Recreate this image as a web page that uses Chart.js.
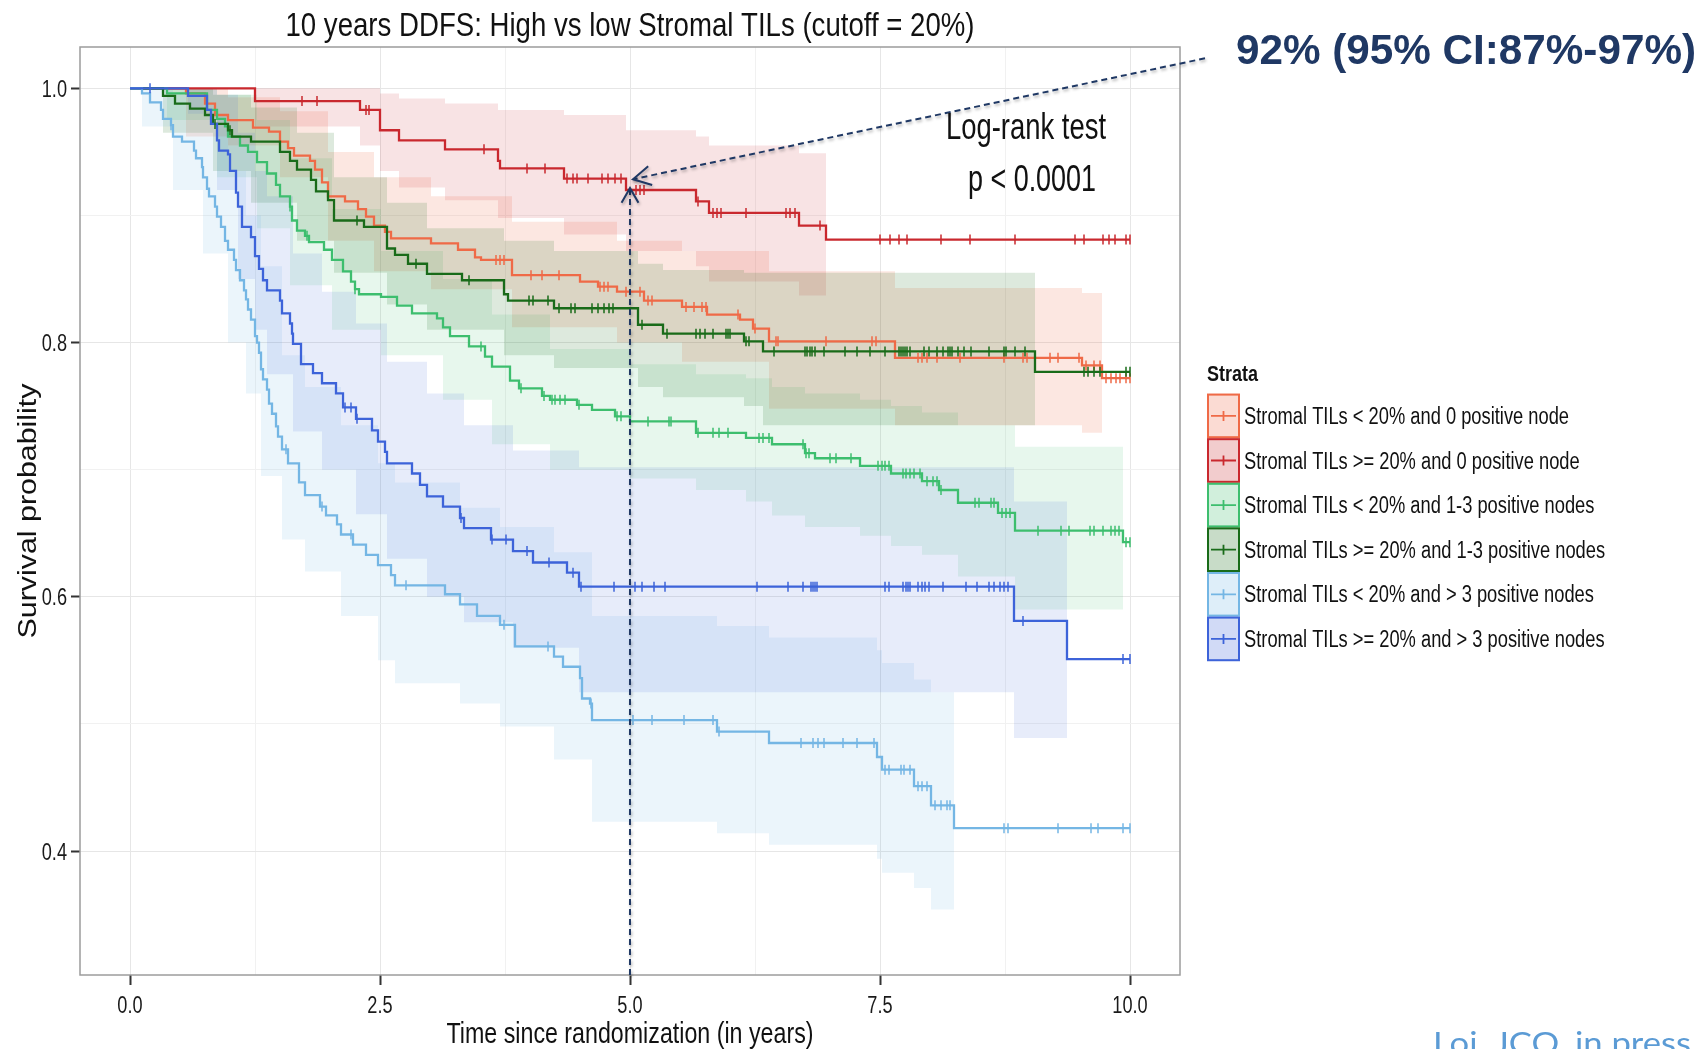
<!DOCTYPE html>
<html>
<head>
<meta charset="utf-8">
<title>10 years DDFS</title>
<script src="https://cdn.jsdelivr.net/npm/chart.js@4.4.1/dist/chart.umd.min.js"></script>
<style>
  html, body { margin: 0; padding: 0; background: #fff; }
  #wrap { position: relative; width: 1705px; height: 1049px; overflow: hidden; }
</style>
</head>
<body>
<div id="wrap"><canvas id="km"></canvas></div>
<script>
// === 10 years DDFS — Kaplan-Meier by strata ===

const xMajorTicks = [0, 2.5, 5, 7.5, 10];
const xMinorTicks = [1.25, 3.75, 6.25, 8.75];
const yMajorTicks = [0.4, 0.6, 0.8, 1.0];
const yMinorTicks = [0.5, 0.7, 0.9];

const strataLabels = [
  'Stromal TILs < 20% and 0 positive node',
  'Stromal TILs >= 20% and 0 positive node',
  'Stromal TILs < 20% and 1-3 positive nodes',
  'Stromal TILs >= 20% and 1-3 positive nodes',
  'Stromal TILs < 20% and > 3 positive nodes',
  'Stromal TILs >= 20% and > 3 positive nodes',
];

// Stratum 1: TILs < 20%, 0 node
const s1Time = [0, 0.56, 0.75, 0.85, 0.98, 1.23, 1.39, 1.50, 1.58, 1.64, 1.80, 1.85, 1.92, 1.98, 2.15, 2.28, 2.36, 2.44, 2.55, 2.61, 3.01, 3.28, 3.45, 3.51, 3.82, 4.50, 4.68, 4.87, 5.14, 5.52, 5.77, 6.10, 6.23, 6.39, 7.65, 9.52, 9.72, 10.0];
const s1Surv = [1.0, 0.996, 0.988, 0.979, 0.975, 0.969, 0.966, 0.958, 0.953, 0.947, 0.943, 0.936, 0.926, 0.915, 0.911, 0.905, 0.899, 0.892, 0.887, 0.882, 0.878, 0.873, 0.867, 0.865, 0.853, 0.848, 0.844, 0.840, 0.833, 0.828, 0.822, 0.818, 0.811, 0.801, 0.788, 0.782, 0.772, 0.772];
const s1Censor = [3.66, 3.70, 3.74, 4.01, 4.12, 4.29, 4.70, 4.74, 4.78, 4.96, 5.10, 5.18, 5.22, 5.56, 5.64, 5.72, 5.76, 6.08, 6.25, 6.46, 6.48, 6.96, 7.42, 7.46, 7.88, 7.92, 7.97, 8.07, 8.30, 8.74, 8.93, 8.97, 9.20, 9.28, 9.49, 9.56, 9.64, 9.70, 9.76, 9.81, 9.86, 9.90, 9.96, 10.0];
const s1BandTime = [0, 0.56, 0.98, 1.50, 1.98, 2.44, 3.01, 3.82, 4.87, 5.52, 6.39, 7.65, 9.52, 9.72];
const s1Upper = [1.0, 1.0, 0.993, 0.982, 0.950, 0.930, 0.915, 0.895, 0.880, 0.872, 0.856, 0.843, 0.839, 0.839];
const s1Lower = [1.0, 0.962, 0.955, 0.930, 0.880, 0.856, 0.842, 0.812, 0.800, 0.785, 0.748, 0.735, 0.729, 0.729];

// Stratum 2: TILs >= 20%, 0 node
const s2Time = [0, 1.25, 2.30, 2.50, 2.69, 3.15, 3.68, 3.70, 4.34, 4.96, 5.66, 5.79, 6.69, 6.96, 10.0];
const s2Surv = [1.0, 0.990, 0.983, 0.967, 0.959, 0.952, 0.943, 0.937, 0.929, 0.920, 0.911, 0.902, 0.892, 0.881, 0.881];
const s2Censor = [1.72, 1.87, 2.36, 2.39, 3.54, 3.97, 4.15, 4.37, 4.43, 4.47, 4.58, 4.72, 4.78, 4.85, 4.91, 5.06, 5.10, 5.14, 5.68, 5.83, 5.87, 5.91, 6.16, 6.56, 6.60, 6.65, 6.90, 7.50, 7.60, 7.69, 7.77, 8.11, 8.40, 8.85, 9.45, 9.54, 9.73, 9.79, 9.85, 9.96, 10.0];
const s2BandTime = [0, 1.25, 2.30, 2.50, 2.69, 3.15, 3.68, 4.34, 4.96, 5.66, 5.79, 6.69, 6.96];
const s2Upper = [1.0, 1.0, 1.0, 0.996, 0.992, 0.988, 0.983, 0.979, 0.967, 0.962, 0.955, 0.949, 0.949];
const s2Lower = [1.0, 0.970, 0.955, 0.935, 0.922, 0.912, 0.898, 0.885, 0.872, 0.860, 0.848, 0.837, 0.837];

// Stratum 3: TILs < 20%, 1-3 nodes
const s3Time = [0, 0.37, 0.77, 0.87, 0.95, 0.98, 1.10, 1.18, 1.27, 1.37, 1.46, 1.50, 1.60, 1.62, 1.67, 1.75, 1.79, 1.94, 2.02, 2.13, 2.21, 2.25, 2.29, 2.51, 2.67, 2.82, 3.07, 3.13, 3.20, 3.39, 3.55, 3.62, 3.80, 3.89, 4.12, 4.20, 4.47, 4.62, 4.85, 5.00, 5.66, 6.16, 6.42, 6.75, 6.85, 7.30, 7.61, 7.92, 8.09, 8.28, 8.68, 8.85, 9.93, 10.0];
const s3Surv = [1.0, 0.996, 0.983, 0.976, 0.970, 0.962, 0.955, 0.950, 0.942, 0.933, 0.924, 0.915, 0.907, 0.896, 0.888, 0.884, 0.879, 0.873, 0.865, 0.856, 0.848, 0.842, 0.838, 0.836, 0.829, 0.823, 0.819, 0.812, 0.805, 0.797, 0.789, 0.781, 0.770, 0.764, 0.758, 0.755, 0.751, 0.747, 0.742, 0.738, 0.729, 0.725, 0.720, 0.713, 0.709, 0.703, 0.697, 0.691, 0.684, 0.674, 0.666, 0.652, 0.643, 0.643];
const s3Censor = [1.60, 1.77, 2.25, 3.51, 3.91, 4.14, 4.22, 4.25, 4.30, 4.35, 4.49, 4.87, 4.91, 5.18, 5.39, 5.41, 5.68, 5.83, 5.89, 5.98, 6.29, 6.33, 6.39, 6.73, 6.76, 6.79, 7.00, 7.06, 7.21, 7.48, 7.52, 7.55, 7.59, 7.73, 7.76, 7.80, 7.84, 7.90, 7.97, 8.03, 8.07, 8.11, 8.45, 8.49, 8.61, 8.64, 8.72, 8.76, 8.80, 9.08, 9.31, 9.39, 9.60, 9.64, 9.73, 9.81, 9.85, 9.89, 9.96, 10.0];
const s3BandTime = [0, 0.37, 0.87, 1.27, 1.60, 2.02, 2.51, 3.13, 3.62, 4.20, 5.00, 5.66, 6.16, 6.42, 6.75, 7.30, 7.61, 7.92, 8.28, 8.85, 9.93];
const s3Upper = [1.0, 1.0, 0.995, 0.975, 0.945, 0.905, 0.872, 0.850, 0.822, 0.795, 0.783, 0.775, 0.772, 0.765, 0.760, 0.755, 0.750, 0.745, 0.735, 0.718, 0.718];
const s3Lower = [1.0, 0.975, 0.930, 0.890, 0.845, 0.810, 0.790, 0.755, 0.720, 0.700, 0.693, 0.684, 0.675, 0.664, 0.655, 0.648, 0.640, 0.633, 0.616, 0.590, 0.590];

// Stratum 4: TILs >= 20%, 1-3 nodes
const s4Time = [0, 0.33, 0.45, 0.60, 0.75, 0.83, 0.98, 1.02, 1.21, 1.50, 1.60, 1.67, 1.81, 1.86, 1.98, 2.04, 2.34, 2.57, 2.65, 2.78, 2.97, 3.32, 3.74, 3.78, 4.24, 5.08, 5.33, 6.14, 6.33, 9.05, 10.0];
const s4Surv = [1.0, 0.994, 0.988, 0.984, 0.979, 0.972, 0.967, 0.962, 0.958, 0.950, 0.943, 0.936, 0.928, 0.919, 0.912, 0.896, 0.891, 0.874, 0.869, 0.862, 0.854, 0.849, 0.838, 0.833, 0.827, 0.814, 0.807, 0.801, 0.793, 0.777, 0.777];
const s4Censor = [0.85, 1.00, 2.27, 2.86, 3.39, 3.99, 4.03, 4.18, 4.29, 4.41, 4.45, 4.62, 4.68, 4.74, 4.79, 4.83, 5.12, 5.37, 5.66, 5.70, 5.75, 5.83, 5.96, 5.98, 6.00, 6.16, 6.19, 6.44, 6.75, 6.77, 6.80, 6.82, 6.85, 6.94, 7.15, 7.27, 7.40, 7.55, 7.69, 7.71, 7.73, 7.75, 7.77, 7.80, 7.94, 7.99, 8.07, 8.13, 8.18, 8.20, 8.22, 8.28, 8.34, 8.41, 8.59, 8.74, 8.76, 8.85, 8.95, 9.54, 9.58, 9.64, 9.70, 9.96, 10.0];
const s4BandTime = [0, 0.33, 0.83, 1.21, 1.67, 2.04, 2.57, 2.97, 3.74, 4.24, 5.08, 5.33, 6.14, 6.33, 9.05];
const s4Upper = [1.0, 1.0, 0.995, 0.985, 0.965, 0.930, 0.910, 0.890, 0.880, 0.872, 0.862, 0.857, 0.855, 0.855, 0.855];
const s4Lower = [1.0, 0.965, 0.935, 0.910, 0.880, 0.855, 0.830, 0.810, 0.790, 0.780, 0.765, 0.757, 0.750, 0.735, 0.735];

// Stratum 5: TILs < 20%, > 3 nodes
const s5Time = [0, 0.12, 0.20, 0.31, 0.33, 0.41, 0.43, 0.52, 0.64, 0.66,
  0.72, 0.73, 0.77, 0.79, 0.85, 0.87, 0.91, 0.95, 0.98, 1.04,
  1.06, 1.10, 1.14, 1.16, 1.18, 1.21, 1.25, 1.27, 1.29, 1.31,
  1.33, 1.37, 1.39, 1.42, 1.46, 1.48, 1.52, 1.58, 1.69, 1.75,
  1.90, 1.96, 2.07, 2.11, 2.23, 2.36, 2.48, 2.61, 2.65, 3.15,
  3.30, 3.47, 3.70, 3.85, 4.24, 4.33, 4.50, 4.52, 4.60, 4.62,
  5.87, 6.39, 7.47, 7.52, 7.84, 8.01, 8.24, 10.0];
const s5Surv = [1.0, 0.996, 0.989, 0.983, 0.976, 0.971, 0.962, 0.958, 0.951, 0.945,
  0.938, 0.930, 0.921, 0.915, 0.907, 0.899, 0.891, 0.880, 0.873, 0.865,
  0.857, 0.849, 0.841, 0.834, 0.826, 0.818, 0.805, 0.800, 0.792, 0.779,
  0.771, 0.763, 0.752, 0.744, 0.734, 0.726, 0.716, 0.705, 0.690, 0.680,
  0.671, 0.664, 0.657, 0.649, 0.641, 0.633, 0.625, 0.617, 0.609, 0.602,
  0.594, 0.585, 0.578, 0.561, 0.553, 0.545, 0.536, 0.520, 0.516, 0.503,
  0.494, 0.485, 0.474, 0.464, 0.451, 0.436, 0.418, 0.418];
const s5Censor = [0.41, 1.56, 1.92, 2.21, 2.76, 3.74, 4.18, 4.61, 5.03, 5.22, 5.54, 5.83, 5.89, 6.71, 6.83, 6.88, 6.94, 7.13, 7.27, 7.44, 7.55, 7.59, 7.71, 7.74, 7.80, 7.88, 7.92, 7.97, 8.05, 8.11, 8.17, 8.20, 8.74, 8.78, 9.28, 9.61, 9.68, 9.93, 10.0];
const s5BandTime = [0, 0.12, 0.43, 0.73, 0.98, 1.16, 1.31, 1.52, 1.75, 2.11, 2.48, 2.65, 3.30, 3.70, 4.24, 4.62, 5.87, 6.39, 7.47, 7.52, 7.84, 8.01, 8.24];
const s5Upper = [1.0, 1.0, 0.995, 0.980, 0.935, 0.900, 0.860, 0.790, 0.765, 0.735, 0.705, 0.690, 0.670, 0.655, 0.635, 0.585, 0.577, 0.568, 0.558, 0.548, 0.535, 0.525, 0.525];
const s5Lower = [1.0, 0.970, 0.920, 0.870, 0.800, 0.760, 0.695, 0.645, 0.620, 0.585, 0.550, 0.532, 0.516, 0.498, 0.472, 0.423, 0.414, 0.405, 0.394, 0.383, 0.371, 0.354, 0.354];

// Stratum 6: TILs >= 20%, > 3 nodes
const s6Time = [0, 0.58, 0.77, 0.81, 0.87, 0.89, 0.98, 1.00, 1.06, 1.08, 1.12, 1.21, 1.25, 1.29, 1.33, 1.37, 1.50, 1.52, 1.60, 1.62, 1.63, 1.71, 1.83, 1.92, 2.06, 2.13, 2.26, 2.42, 2.48, 2.55, 2.57, 2.82, 2.90, 2.97, 3.13, 3.30, 3.34, 3.61, 3.83, 4.03, 4.37, 4.49, 8.84, 9.37, 10.0];
const s6Surv = [1.0, 0.994, 0.983, 0.972, 0.959, 0.951, 0.948, 0.935, 0.918, 0.907, 0.891, 0.883, 0.868, 0.858, 0.849, 0.841, 0.833, 0.823, 0.815, 0.807, 0.799, 0.783, 0.776, 0.768, 0.760, 0.749, 0.740, 0.731, 0.722, 0.714, 0.705, 0.697, 0.688, 0.679, 0.671, 0.662, 0.654, 0.645, 0.636, 0.627, 0.619, 0.608, 0.581, 0.551, 0.551];
const s6Censor = [0.20, 2.15, 2.21, 2.27, 3.31, 3.62, 3.76, 3.97, 4.19, 4.43, 4.51, 4.84, 5.05, 5.12, 5.24, 5.35, 6.27, 6.58, 6.73, 6.81, 6.83, 6.85, 6.87, 7.55, 7.59, 7.73, 7.76, 7.78, 7.80, 7.88, 7.92, 7.95, 7.99, 8.13, 8.36, 8.47, 8.59, 8.64, 8.70, 8.74, 8.78, 8.93, 9.93, 10.0];
const s6BandTime = [0, 0.58, 0.87, 1.08, 1.25, 1.37, 1.63, 1.92, 2.26, 2.57, 2.97, 3.34, 3.83, 4.49, 8.84, 9.37];
const s6Upper = [1.0, 1.0, 0.995, 0.965, 0.935, 0.915, 0.870, 0.840, 0.815, 0.785, 0.760, 0.735, 0.715, 0.702, 0.675, 0.675];
const s6Lower = [1.0, 0.980, 0.920, 0.850, 0.810, 0.775, 0.730, 0.700, 0.665, 0.630, 0.600, 0.580, 0.560, 0.525, 0.489, 0.489];

// styles
const STRATA_COLORS = ['#ef6a47', '#c9282e', '#3dbe6e', '#196b19', '#74b6e4', '#3d63d9'];
const BAND_ALPHA = [0.16, 0.13, 0.12, 0.15, 0.14, 0.12];
const NAVY = '#1f3864';
const FONT = '"Liberation Sans", Arial, sans-serif';

function rgba(hex, a) {
  const n = parseInt(hex.slice(1), 16);
  return `rgba(${(n >> 16) & 255}, ${(n >> 8) & 255}, ${n & 255}, ${a})`;
}

// KM step lookup: value of the curve at time t
function survAt(times, surv, t) {
  let v = surv[0];
  for (let i = 0; i < times.length; i++) {
    if (times[i] <= t) v = surv[i];
  }
  return v;
}

const strata = [
  { time: s1Time, surv: s1Surv, censor: s1Censor, band: s1BandTime, up: s1Upper, lo: s1Lower },
  { time: s2Time, surv: s2Surv, censor: s2Censor, band: s2BandTime, up: s2Upper, lo: s2Lower },
  { time: s3Time, surv: s3Surv, censor: s3Censor, band: s3BandTime, up: s3Upper, lo: s3Lower },
  { time: s4Time, surv: s4Surv, censor: s4Censor, band: s4BandTime, up: s4Upper, lo: s4Lower },
  { time: s5Time, surv: s5Surv, censor: s5Censor, band: s5BandTime, up: s5Upper, lo: s5Lower },
  { time: s6Time, surv: s6Surv, censor: s6Censor, band: s6BandTime, up: s6Upper, lo: s6Lower },
];

const datasets = [];

// confidence ribbons (upper fills down to lower)
strata.forEach((s, k) => {
  const fillCol = rgba(STRATA_COLORS[k], BAND_ALPHA[k]);
  datasets.push({
    data: s.band.map((t, i) => ({ x: t, y: s.up[i] })),
    stepped: true, borderWidth: 0, borderColor: 'rgba(0,0,0,0)',
    pointRadius: 0, backgroundColor: fillCol, fill: '+1', order: 30 - k,
  });
  datasets.push({
    data: s.band.map((t, i) => ({ x: t, y: s.lo[i] })),
    stepped: true, borderWidth: 0, borderColor: 'rgba(0,0,0,0)',
    pointRadius: 0, fill: false, order: 30 - k,
  });
});

// survival curves
strata.forEach((s, k) => {
  datasets.push({
    label: strataLabels[k],
    data: s.time.map((t, i) => ({ x: t, y: s.surv[i] })),
    stepped: true, borderColor: STRATA_COLORS[k], borderWidth: 2.3,
    pointRadius: 0, fill: false, order: 20 - k,
  });
});

// censoring marks
strata.forEach((s, k) => {
  datasets.push({
    data: s.censor.map(t => ({ x: t, y: survAt(s.time, s.surv, t) })),
    showLine: false, pointStyle: 'line', pointRotation: 90, pointRadius: 5,
    pointBorderWidth: 1.5, pointBorderColor: STRATA_COLORS[k], order: 10 - k,
  });
});

// text drawn horizontally condensed to a target width
function condText(ctx, text, x, y, o) {
  ctx.save();
  ctx.font = o.font;
  ctx.fillStyle = o.color || '#111';
  ctx.textBaseline = 'alphabetic';
  const w = ctx.measureText(text).width;
  const sx = o.sx || (o.width ? o.width / w : 1);
  ctx.translate(x, y);
  if (o.rotate) ctx.rotate(o.rotate);
  ctx.scale(sx, 1);
  let ox = 0;
  if (o.align === 'center') ox = -w / 2;
  else if (o.align === 'right') ox = -w;
  ctx.fillText(text, ox, 0);
  ctx.restore();
  return sx;
}

function arrowHead(ctx, tx, ty, angle, len, spread) {
  ctx.beginPath();
  ctx.moveTo(tx + len * Math.cos(angle - spread), ty + len * Math.sin(angle - spread));
  ctx.lineTo(tx, ty);
  ctx.lineTo(tx + len * Math.cos(angle + spread), ty + len * Math.sin(angle + spread));
  ctx.stroke();
}

const decorPlugin = {
  id: 'decor',
  afterDraw(chart) {
    const { ctx, chartArea: a, scales: { x, y } } = chart;

    // panel border
    ctx.save();
    ctx.strokeStyle = '#9c9c9c';
    ctx.lineWidth = 1.5;
    ctx.strokeRect(a.left, a.top, a.right - a.left, a.bottom - a.top);
    ctx.restore();

    // tick labels (narrow, as in the source figure)
    const tickFont = `23px ${FONT}`;
    xMajorTicks.forEach(v => condText(ctx, v.toFixed(1), x.getPixelForValue(v), a.bottom + 38,
      { font: tickFont, sx: 0.79, align: 'center', color: '#1a1a1a' }));
    yMajorTicks.forEach(v => condText(ctx, v.toFixed(1), a.left - 13, y.getPixelForValue(v) + 8.5,
      { font: tickFont, sx: 0.79, align: 'right', color: '#1a1a1a' }));

    // dashed guide at 5 years and arrow to the annotation
    const vx = x.getPixelForValue(5);
    const vTop = y.getPixelForValue(0.9215);
    const tipX = x.getPixelForValue(5.03), tipY = y.getPixelForValue(0.9285);
    const startX = x.getPixelForValue(10.75), startY = y.getPixelForValue(1.0236);
    ctx.save();
    ctx.strokeStyle = NAVY;
    ctx.lineWidth = 2;
    ctx.shadowColor = 'rgba(0,0,0,0.3)';
    ctx.shadowBlur = 3;
    ctx.shadowOffsetX = 1;
    ctx.shadowOffsetY = 2;
    ctx.setLineDash([6, 4]);
    ctx.beginPath();
    ctx.moveTo(vx, a.bottom);
    ctx.lineTo(vx, vTop);
    ctx.stroke();
    ctx.beginPath();
    ctx.moveTo(startX, startY);
    ctx.lineTo(tipX, tipY);
    ctx.stroke();
    ctx.setLineDash([]);
    ctx.lineWidth = 2;
    arrowHead(ctx, vx, vTop, Math.PI / 2, 17, 0.52);
    arrowHead(ctx, tipX, tipY, Math.atan2(startY - tipY, startX - tipX), 20, 0.5);
    ctx.restore();

    // titles
    condText(ctx, '10 years DDFS: High vs low Stromal TILs (cutoff = 20%)', (a.left + a.right) / 2, 36,
      { font: `33px ${FONT}`, width: 689, align: 'center' });
    condText(ctx, 'Time since randomization (in years)', (a.left + a.right) / 2, 1043,
      { font: `29px ${FONT}`, width: 367, align: 'center' });
    condText(ctx, 'Survival probability', 36, (a.top + a.bottom) / 2,
      { font: `26px ${FONT}`, width: 255, align: 'center', rotate: -Math.PI / 2 });

    // log-rank text
    condText(ctx, 'Log-rank test', 1026, 139, { font: `36px ${FONT}`, width: 160, align: 'center' });
    condText(ctx, 'p < 0.0001', 1032, 191, { font: `36px ${FONT}`, width: 128, align: 'center' });

    // highlighted estimate
    condText(ctx, '92% (95% CI:87%-97%)', 1236, 64, { font: `bold 42px ${FONT}`, width: 460, color: NAVY });

    // legend
    condText(ctx, 'Strata', 1207, 381, { font: `bold 22px ${FONT}`, width: 51 });
    const kx = 1207, kw = 33, kh = 44.6, ky0 = 393.6;
    let sx = null;
    strataLabels.forEach((lab, k) => {
      const top = ky0 + k * kh;
      const col = STRATA_COLORS[k];
      ctx.save();
      ctx.fillStyle = rgba(col, 0.24);
      ctx.fillRect(kx, top, kw, kh);
      ctx.strokeStyle = col;
      ctx.lineWidth = 2;
      ctx.strokeRect(kx + 1, top + 1, kw - 2, kh - 2);
      ctx.lineWidth = 1.8;
      ctx.beginPath();
      ctx.moveTo(kx + 4, top + kh / 2);
      ctx.lineTo(kx + kw - 4, top + kh / 2);
      ctx.moveTo(kx + kw / 2, top + kh / 2 - 5);
      ctx.lineTo(kx + kw / 2, top + kh / 2 + 5);
      ctx.stroke();
      ctx.restore();
      const o = { font: `23px ${FONT}` };
      if (sx === null) o.width = 325; else o.sx = sx;
      const used = condText(ctx, lab, 1244, top + kh / 2 + 8, o);
      if (sx === null) sx = used;
    });

    // reference
    condText(ctx, 'Loi, JCO, in press', 1433, 1054, { font: `30px Lato, ${FONT}`, width: 258, color: '#5b9bd5' });
  },
};

const isMajorX = v => xMajorTicks.includes(v);
const isMajorY = v => yMajorTicks.includes(v);

new Chart(document.getElementById('km'), {
  type: 'line',
  data: { datasets },
  plugins: [decorPlugin],
  options: {
    responsive: true,
    maintainAspectRatio: false,
    animation: false,
    layout: { autoPadding: false, padding: { top: 47, right: 525, bottom: 0, left: 0 } },
    plugins: { legend: { display: false }, tooltip: { enabled: false }, title: { display: false } },
    scales: {
      x: {
        type: 'linear', min: -0.5, max: 10.5,
        afterBuildTicks: s => { s.ticks = xMajorTicks.concat(xMinorTicks).sort((a, b) => a - b).map(v => ({ value: v })); },
        afterFit: s => { s.height = 74; },
        border: { display: false },
        grid: {
          color: c => isMajorX(c.tick.value) ? '#e6e6e6' : '#f1f1f1',
          lineWidth: 1,
          tickLength: 10,
          tickWidth: 2,
          tickColor: c => isMajorX(c.tick.value) ? '#333' : 'rgba(0,0,0,0)',
        },
        ticks: { display: false },
      },
      y: {
        type: 'linear', min: 0.3025, max: 1.0325,
        afterBuildTicks: s => { s.ticks = yMajorTicks.concat(yMinorTicks).sort((a, b) => a - b).map(v => ({ value: v })); },
        afterFit: s => { s.width = 80; },
        border: { display: false },
        grid: {
          color: c => isMajorY(c.tick.value) ? '#e6e6e6' : '#f1f1f1',
          lineWidth: 1,
          tickLength: 9,
          tickWidth: 2,
          tickColor: c => isMajorY(c.tick.value) ? '#333' : 'rgba(0,0,0,0)',
        },
        ticks: { display: false },
      },
    },
  },
});
</script>
</body>
</html>
